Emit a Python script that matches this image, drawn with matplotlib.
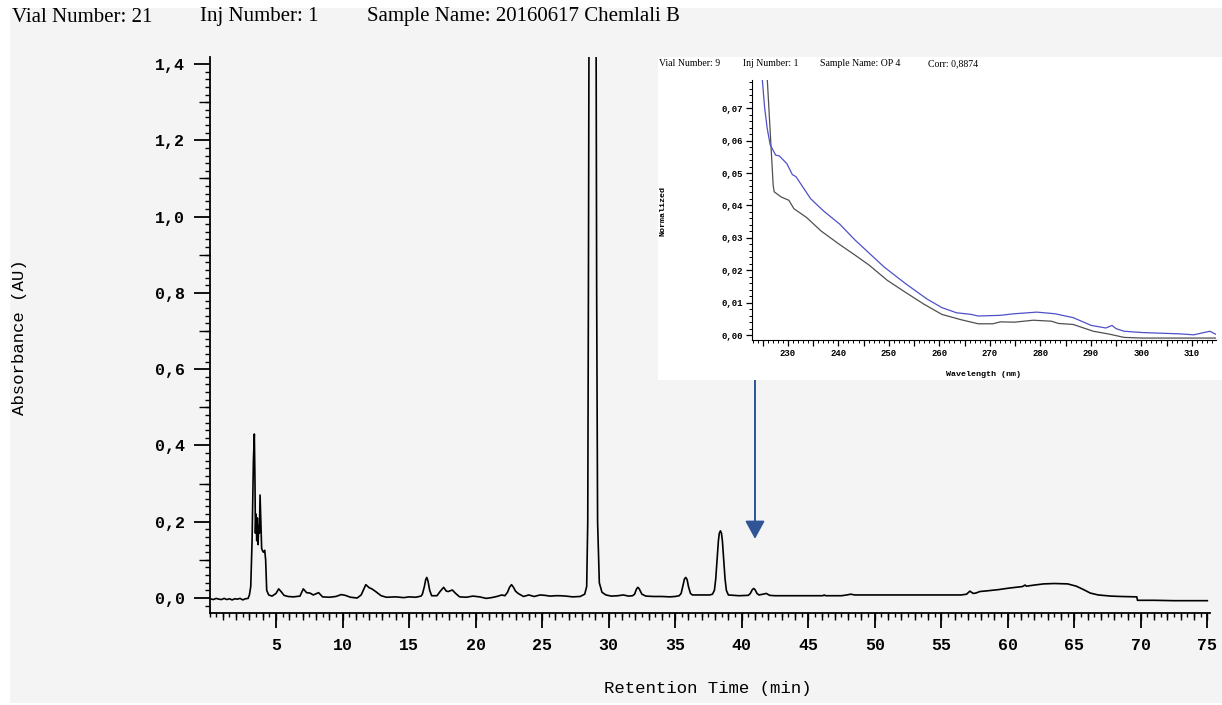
import numpy as np
import matplotlib.pyplot as plt
from matplotlib.ticker import MultipleLocator, FuncFormatter
from matplotlib.patches import Rectangle

# chromatogram trace (retention time in min, absorbance in AU)
rt = [0.05, 0.3, 0.5, 0.7, 0.9, 1.1, 1.3, 1.5, 1.7, 1.9, 2.1, 2.3, 2.5, 2.7, 2.9,
      3.0, 3.1, 3.2, 3.3, 3.37, 3.42, 3.45, 3.5, 3.55, 3.6, 3.65, 3.7, 3.75, 3.8,
      3.86, 3.92, 3.97, 4.05, 4.15, 4.22, 4.3, 4.45, 4.7, 5.0, 5.2, 5.4, 5.6, 5.9,
      6.3, 6.8, 7.05, 7.3, 7.55, 7.8, 8.2, 8.5, 9.0, 9.5, 9.9, 10.2, 10.6, 11.1,
      11.4, 11.75, 12.0, 12.2, 12.45, 12.6, 12.9, 13.3, 14.0, 14.6, 15.0, 15.5,
      15.9, 16.0, 16.15, 16.25, 16.33, 16.42, 16.55, 16.7, 17.1, 17.35, 17.6,
      17.8, 17.95, 18.25, 18.5, 18.8, 19.3, 19.8, 20.3, 20.8, 21.2, 21.6, 21.97,
      22.2, 22.4, 22.55, 22.7, 22.85, 23.0, 23.2, 23.6, 24.0, 24.4, 24.85, 25.2,
      25.6, 26.0, 26.35, 26.8, 27.3, 27.86, 28.2, 28.35, 28.43, 28.48, 28.53,
      28.8, 29.05, 29.1, 29.17, 29.3, 29.5, 29.8, 30.2, 30.7, 31.1, 31.5, 31.8,
      31.95, 32.1, 32.2, 32.3, 32.5, 32.8, 33.4, 34.0, 34.6, 35.0, 35.3, 35.45,
      35.6, 35.7, 35.8, 35.9, 36.0, 36.15, 36.3, 37.0, 37.6, 37.8, 37.95, 38.05,
      38.15, 38.25, 38.32, 38.4, 38.48, 38.55, 38.65, 38.75, 38.85, 39.0, 39.8,
      40.5, 40.65, 40.8, 40.9, 41.0, 41.15, 41.3, 41.6, 41.85, 42.1, 42.5, 43.5,
      44.5, 45.5, 46.1, 46.2, 46.3, 47.5, 47.9, 48.2, 48.5, 49.5, 51.0, 52.5,
      54.0, 55.5, 56.5, 56.9, 57.15, 57.4, 57.6, 57.9, 58.5, 59.3, 60.1, 60.8,
      61.1, 61.3, 61.4, 62.0, 62.7, 63.5, 64.5, 65.15, 65.7, 66.2, 66.8, 67.75,
      68.5, 69.7, 69.75, 71.0, 72.5, 74.0, 75.0]
absorb = [-0.002, -0.004, -0.001, -0.003, -0.004, -0.001, -0.004, -0.002, -0.005,
          -0.002, -0.003, -0.001, -0.005, -0.002, -0.001,
          0.008, 0.03, 0.15, 0.36, 0.43, 0.30, 0.17, 0.22, 0.15, 0.21, 0.14, 0.19,
          0.17, 0.27, 0.20, 0.13, 0.125, 0.12, 0.125, 0.10, 0.02, 0.008, 0.005,
          0.012, 0.024, 0.016, 0.007, 0.004, 0.003, 0.005, 0.024, 0.014, 0.013,
          0.008, 0.014, 0.003, 0.002, 0.004, 0.009, 0.007, 0.002, 0.0, 0.008,
          0.035, 0.027, 0.024, 0.018, 0.014, 0.006, 0.002, 0.003, 0.001, 0.003,
          0.002, 0.005, 0.01, 0.03, 0.048, 0.054, 0.045, 0.02, 0.006, 0.006, 0.018,
          0.028, 0.018, 0.017, 0.021, 0.012, 0.003, 0.002, 0.005, 0.003, -0.001,
          0.001, 0.004, 0.008, 0.006, 0.015, 0.028, 0.035, 0.028, 0.018, 0.012,
          0.004, 0.008, 0.004, 0.008, 0.007, 0.005, 0.006, 0.006, 0.005, 0.003,
          0.004, 0.01, 0.03, 0.2, 0.8, 1.6, 3.2, 1.6, 0.8, 0.2, 0.04, 0.015, 0.008,
          0.005, 0.006, 0.008, 0.005, 0.006, 0.01, 0.024, 0.028, 0.024, 0.01,
          0.005, 0.004, 0.004, 0.003, 0.004, 0.006, 0.012, 0.035, 0.05, 0.054,
          0.048, 0.03, 0.012, 0.008, 0.008, 0.008, 0.01, 0.02, 0.05, 0.1, 0.15,
          0.17, 0.176, 0.17, 0.15, 0.1, 0.05, 0.02, 0.008, 0.006, 0.007, 0.012,
          0.022, 0.025, 0.022, 0.012, 0.008, 0.01, 0.012, 0.007, 0.006, 0.006,
          0.006, 0.006, 0.006, 0.008, 0.006, 0.006, 0.008, 0.01, 0.008, 0.008,
          0.008, 0.008, 0.008, 0.008, 0.008, 0.01, 0.018, 0.012, 0.013, 0.017,
          0.019, 0.022, 0.026, 0.029, 0.03, 0.034, 0.031, 0.034, 0.037, 0.038,
          0.037, 0.031, 0.022, 0.013, 0.008, 0.005, 0.004, 0.003, -0.006, -0.006,
          -0.007, -0.007, -0.007]

# inset UV spectra (wavelength in nm, normalized)
wl_blue = [224.9, 225.4, 225.9, 226.5, 227.6, 228.3, 229.8, 230.9, 231.6, 234.5,
           237.0, 240.3, 243.2, 246.1, 249.0, 253.3, 257.6, 260.5, 263.4, 266.3,
           267.7, 272.0, 274.9, 279.3, 282.9, 286.5, 290.1, 293.0, 294.2, 295.0,
           296.6, 300.2, 303.8, 307.5, 310.4, 313.6, 314.7]
norm_blue = [0.0796, 0.0702, 0.0639, 0.0587, 0.0555, 0.0553, 0.0529, 0.0495, 0.0489,
             0.0421, 0.0384, 0.0342, 0.0295, 0.0253, 0.0211, 0.0159, 0.0111, 0.0085,
             0.0069, 0.0064, 0.0059, 0.0061, 0.0066, 0.0071, 0.0066, 0.0054, 0.0030,
             0.0022, 0.0030, 0.0020, 0.0012, 0.0008, 0.0006, 0.0004, 0.0001, 0.0012,
             0.0003]
wl_grey = [225.9, 227.1, 227.3, 228.7, 230.2, 231.2, 233.7, 236.6, 240.3, 243.2,
           246.1, 249.7, 253.3, 256.9, 260.5, 264.2, 267.7, 270.6, 272.1, 274.9,
           278.6, 282.2, 283.6, 286.5, 290.5, 293.7, 296.6, 300.2, 314.7]
norm_grey = [0.0796, 0.0461, 0.0442, 0.0426, 0.0416, 0.0390, 0.0363, 0.0321, 0.0279,
             0.0248, 0.0216, 0.0169, 0.0132, 0.0096, 0.0064, 0.0048, 0.0035, 0.0035,
             0.0041, 0.0040, 0.0046, 0.0043, 0.0036, 0.0033, 0.0012, 0.0003, -0.0007,
             -0.0009, -0.0009]

arrow_rt = 41.0

W, H = 1222, 705
mono = 'Liberation Mono'
serif = 'Liberation Serif'
comma1 = FuncFormatter(lambda v, p: f"{v:.1f}".replace('.', ','))
comma2 = FuncFormatter(lambda v, p: f"{v:.2f}".replace('.', ','))

fig = plt.figure(figsize=(W / 100, H / 100), dpi=100, facecolor='white')
fig.patches.append(Rectangle((10 / W, 2 / H), 1 - 10 / W, 1 - 10 / H,
                             transform=fig.transFigure, facecolor='#f4f4f4',
                             edgecolor='none', zorder=-10))

# main chromatogram
ax = fig.add_axes([209.5 / W, 1 - 613 / H, 1000.5 / W, 556 / H])
ax.set_facecolor('none')
ax.plot(rt, absorb, color='black', lw=1.2)
ax.set_xlim(0, 75.2)
ax.set_ylim(-0.0393, 1.4184)
for s in ['top', 'right']:
    ax.spines[s].set_visible(False)
for s in ['left', 'bottom']:
    ax.spines[s].set_linewidth(1.3)

ax.set_xticks(np.arange(5, 76, 5))
ax.xaxis.set_minor_locator(MultipleLocator(0.5))
ax.set_yticks(np.arange(0, 1.41, 0.2))
ax.yaxis.set_major_formatter(comma1)
ax.yaxis.set_minor_locator(MultipleLocator(0.02))
ax.tick_params(axis='x', which='major', length=11, width=1.3, pad=7)
ax.tick_params(axis='x', which='minor', length=3, width=1.0)
ax.tick_params(axis='y', which='major', length=11.5, width=1.3, pad=6)
ax.tick_params(axis='y', which='minor', length=3.6, width=1.0)
for lab in ax.get_xticklabels() + ax.get_yticklabels():
    lab.set_fontfamily(mono)
    lab.set_fontweight('bold')
    lab.set_fontsize(12)

secx = ax.secondary_xaxis('bottom')
secx.set_xticks(np.arange(1, 76, 1))
secx.tick_params(length=5, width=1.0, labelbottom=False)
secx.spines['bottom'].set_visible(False)
secy = ax.secondary_yaxis('left')
secy.set_yticks(np.arange(0.1, 1.41, 0.2))
secy.tick_params(length=8, width=1.0, labelleft=False)
secy.spines['left'].set_visible(False)

ax.annotate('', xy=(arrow_rt, 0.155), xytext=(arrow_rt, 0.577),
            arrowprops=dict(arrowstyle='-|>,head_length=1.1,head_width=0.6',
                            mutation_scale=10, color='#2f5597', lw=1.4,
                            shrinkA=0, shrinkB=0))

fig.text(20 / W, 1 - 337 / H, 'Absorbance (AU)', rotation=90, ha='center',
         va='center', fontfamily=mono, fontsize=12.5)
fig.text(708 / W, 1 - 688 / H, 'Retention Time (min)', ha='center', va='center',
         fontfamily=mono, fontsize=12.5)

fig.text(12 / W, 1 - 17 / H, 'Vial Number: 21', ha='left', va='center',
         fontfamily=serif, fontsize=15)
fig.text(200 / W, 1 - 17 / H, 'Inj Number: 1', ha='left', va='center',
         fontfamily=serif, fontsize=15)
fig.text(367 / W, 1 - 17 / H, 'Sample Name: 20160617 Chemlali B', ha='left',
         va='center', fontfamily=serif, fontsize=15)

# inset spectrum box
box = fig.add_axes([658 / W, 1 - 380 / H, 564 / W, 323 / H])
box.set_facecolor('white')
box.set_xticks([])
box.set_yticks([])
for s in box.spines.values():
    s.set_visible(False)

ins = fig.add_axes([752 / W, 1 - 340 / H, 464 / W, 260 / H])
ins.set_facecolor('white')
ins.plot(wl_grey, norm_grey, color='#505050', lw=0.9)
ins.plot(wl_blue, norm_blue, color='#5050c8', lw=0.9)
ins.set_xlim(222.9, 314.8)
ins.set_ylim(-0.0015, 0.0787)
for s in ['top', 'right']:
    ins.spines[s].set_visible(False)
ins.xaxis.set_major_locator(MultipleLocator(5))
ins.xaxis.set_major_formatter(FuncFormatter(
    lambda v, p: f"{v:.0f}" if round(v) % 10 == 0 else ''))
ins.xaxis.set_minor_locator(MultipleLocator(1))
ins.set_yticks(np.arange(0, 0.075, 0.01))
ins.yaxis.set_major_formatter(comma2)
ins.yaxis.set_minor_locator(MultipleLocator(0.002))
ins.tick_params(which='major', length=4.3, width=0.9, pad=2.5)
ins.tick_params(which='minor', length=2.2, width=0.7)
for lab in ins.get_xticklabels() + ins.get_yticklabels():
    lab.set_fontfamily(mono)
    lab.set_fontweight('bold')
    lab.set_fontsize(6.5)

fig.text(663 / W, 1 - 211 / H, 'Normalized', rotation=90, ha='center', va='center',
         fontfamily=mono, fontweight='bold', fontsize=6)
fig.text(984 / W, 1 - 375 / H, 'Wavelength (nm)', ha='center', va='center',
         fontfamily=mono, fontweight='bold', fontsize=6)
for x, t in [(659, 'Vial Number: 9'), (743, 'Inj Number: 1'),
             (820, 'Sample Name: OP 4'), (928, 'Corr: 0,8874')]:
    fig.text(x / W, 1 - 64 / H, t, ha='left', va='center', fontfamily=serif,
             fontsize=7)

fig.savefig('out.png', dpi=100, facecolor=fig.get_facecolor())
